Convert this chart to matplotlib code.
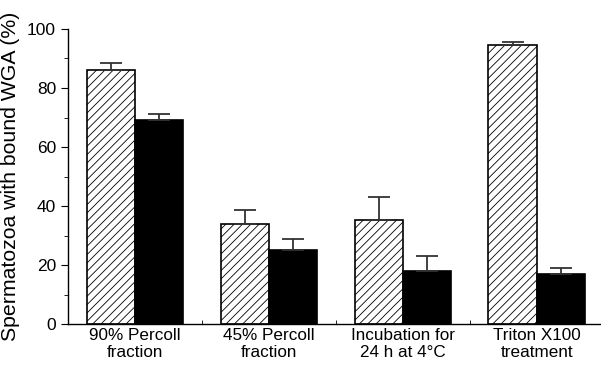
import matplotlib.pyplot as plt
import numpy as np

plt.rcParams['font.family'] = ['Liberation Sans', 'DejaVu Sans']
plt.rcParams['hatch.linewidth'] = 0.6
plt.rcParams['hatch.color'] = '#444444'

# Data
groups = ['90% Percoll\nfraction', '45% Percoll\nfraction',
          'Incubation for\n24 h at 4°C', 'Triton X100\ntreatment']
hatched_vals = [86.0, 33.8, 35.1, 94.6]
hatched_err = [2.5, 4.7, 7.8, 1.0]
black_vals = [69.3, 25.0, 17.9, 16.9]
black_err = [2.0, 3.7, 5.1, 2.0]

x = np.arange(len(groups))
w = 0.36

fig = plt.figure(figsize=(6.01, 3.67), dpi=100)
ax = fig.add_axes([0.113, 0.117, 0.887, 0.804])

ax.bar(x - w/2, hatched_vals, w, color='white', edgecolor='black',
       linewidth=1.2, hatch='////',
       yerr=[np.zeros(4), hatched_err], capsize=8,
       error_kw=dict(elinewidth=1.3, capthick=1.3, ecolor='#333333'))
ax.bar(x + w/2, black_vals, w, color='black', edgecolor='black',
       linewidth=1.2,
       yerr=[np.zeros(4), black_err], capsize=8,
       error_kw=dict(elinewidth=1.3, capthick=1.3, ecolor='#333333'))

ax.set_xlim(-0.5, 3.48)
ax.set_ylim(0, 100)
ax.set_yticks(range(0, 101, 20))
ax.set_yticks(range(10, 100, 20), minor=True)
ax.set_xticks(x)
ax.set_xticklabels(groups, fontsize=12.3, linespacing=1.12)
ax.set_xticks([0.5, 1.5, 2.5], minor=True)
ax.tick_params(axis='x', which='major', length=0, pad=3)
ax.tick_params(axis='x', which='minor', length=3, direction='in')
ax.tick_params(axis='y', which='major', length=5, labelsize=12.5)
ax.tick_params(axis='y', which='minor', length=3)
ax.set_ylabel('Spermatozoa with bound WGA (%)', fontsize=15.3, labelpad=5)

for s in ['top', 'right']:
    ax.spines[s].set_visible(False)
ax.spines['left'].set_linewidth(1.0)
ax.spines['bottom'].set_linewidth(1.0)

fig.savefig('out.png', dpi=100)
